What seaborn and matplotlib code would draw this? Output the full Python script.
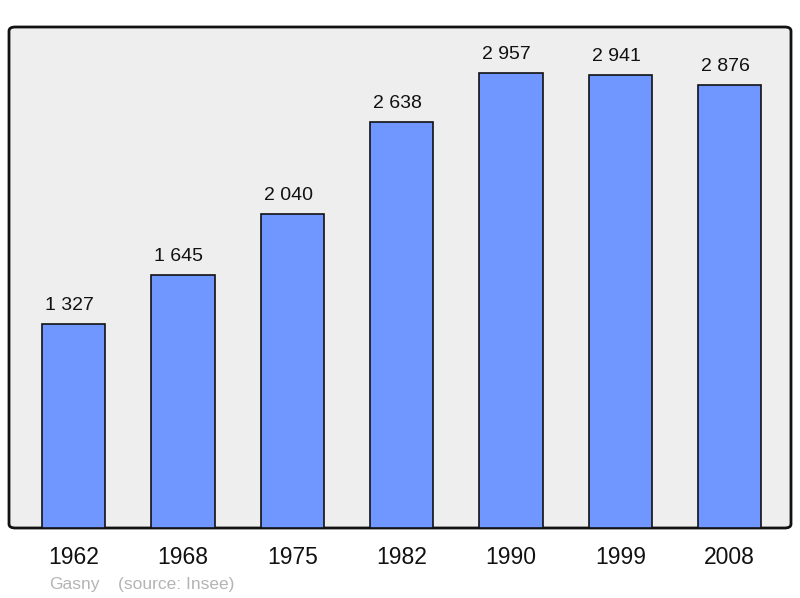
import matplotlib
matplotlib.use("Agg")
import matplotlib.pyplot as plt
import seaborn as sns
import pandas as pd
from matplotlib.patches import FancyBboxPatch

# Données
annees = ["1962", "1968", "1975", "1982", "1990", "1999", "2008"]
population = [1327, 1645, 2040, 2638, 2957, 2941, 2876]
etiquettes = ["1 327", "1 645", "2 040", "2 638", "2 957", "2 941", "2 876"]

df = pd.DataFrame({"annee": annees, "pop": population})

sns.set_style("white")
plt.rcParams["font.family"] = ["Liberation Sans", "DejaVu Sans"]

fig = plt.figure(figsize=(8, 5.98), dpi=100)
ax = fig.add_axes([9 / 800, 70 / 598, 782 / 800, 501 / 598])
ax.set_facecolor("none")

# fond gris à coins arrondis
fond = FancyBboxPatch((0, 0), 1, 1, boxstyle="round,pad=0,rounding_size=0.008",
                      transform=ax.transAxes, facecolor="#eeeeee",
                      edgecolor="#111111", linewidth=2, clip_on=False, zorder=0)
ax.add_patch(fond)

sns.barplot(data=df, x="annee", y="pop", color="#7097ff", saturation=1,
            edgecolor="#111111", linewidth=1.2, width=0.58, ax=ax, zorder=2)

for i, (v, t) in enumerate(zip(population, etiquettes)):
    ax.annotate(t, (i, v), xytext=(-3, 10), textcoords="offset points",
                ha="center", va="baseline", fontsize=14, color="#111111")

ax.set_xlim(-0.59, 6.56)
ax.set_ylim(0, 3255)
ax.set_yticks([])
ax.set_xlabel("")
ax.set_ylabel("")
for s in ax.spines.values():
    s.set_visible(False)
ax.tick_params(axis="x", length=0, pad=13, labelsize=16.5, labelcolor="#111111")

fig.text(49 / 800, 1 - 584 / 598, "Gasny", fontsize=12.5, color="#b4b4b4", va="center")
fig.text(118 / 800, 1 - 584 / 598, "(source: Insee)", fontsize=12.5, color="#b4b4b4", va="center")

fig.savefig("out.png", dpi=100)
